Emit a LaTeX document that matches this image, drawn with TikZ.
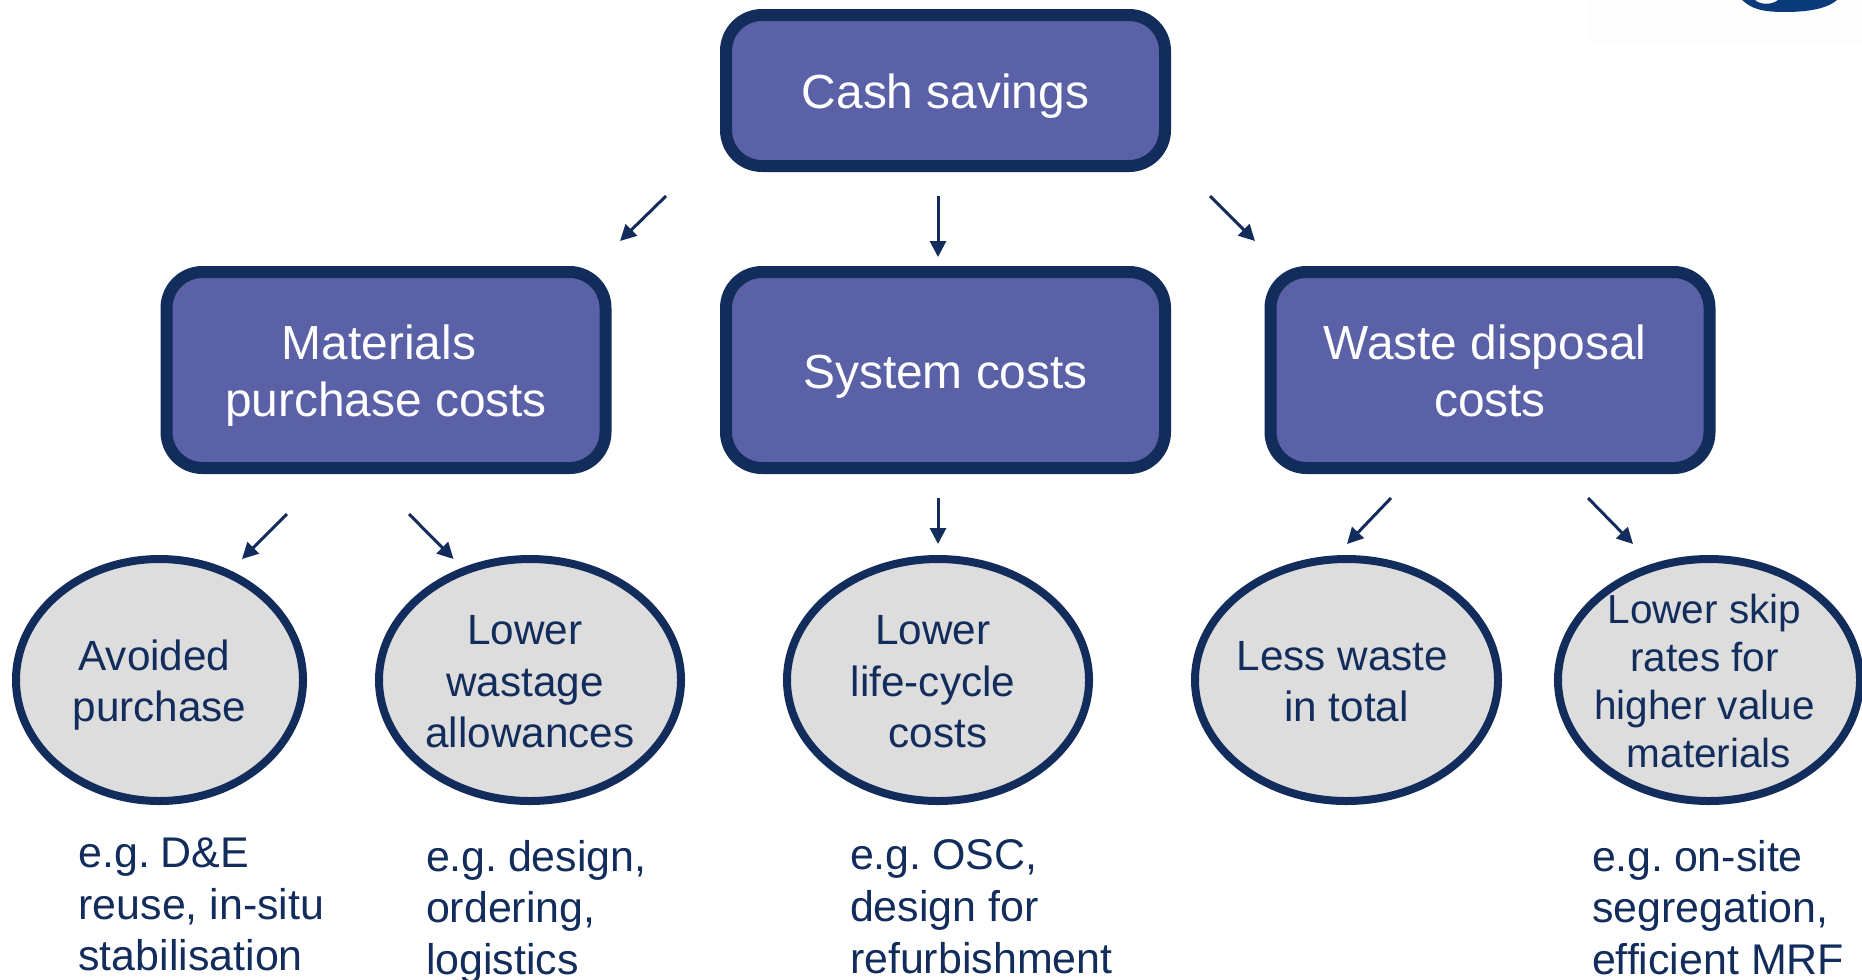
\documentclass[tikz,border=0pt]{standalone}
\usepackage{fontspec}
\setmainfont{Liberation Sans}
\usetikzlibrary{shapes.geometric,arrows.meta}
\definecolor{navy}{HTML}{122C5C}
\definecolor{boxfill}{HTML}{5A61A6}
\definecolor{ellfill}{HTML}{DDDDDD}
\definecolor{logoblue}{HTML}{0B3B7A}
\definecolor{logopale}{HTML}{FDFDFD}
\newlength{\px}\setlength{\px}{0.75pt}
% one line of a node: sideways shift (twice the offset), drop below the line's place, text
\newcommand{\tline}[3]{\hspace*{#1\px}\raisebox{-#2\px}[0pt][0pt]{#3}}
\newcommand{\eg}{e.g.\kern-1.5\px\ }
\tikzset{
  x=0.75pt,y=-0.75pt,
  rbox/.style={draw=navy,fill=boxfill,line width=12\px,rounded corners=36\px,minimum width=439\px,inner sep=0pt,outer sep=0pt,text=white,align=center,font=\fontsize{35.9pt}{42.6pt}\selectfont},
  oval/.style={ellipse,draw=navy,fill=ellfill,line width=8\px,inner sep=-60pt,outer sep=0pt,minimum height=242\px,text=navy,align=center,font=\fontsize{31.7pt}{38.4pt}\selectfont},
  note/.style={anchor=north west,inner sep=0pt,outer sep=0pt,text=navy,align=left,font=\fontsize{32.2pt}{38.7pt}\selectfont},
  arrow/.style={draw=navy,line width=3\px,-{Triangle[length=12pt,width=12pt]}},
}
\begin{document}
\begin{tikzpicture}
\useasboundingbox (0,0) rectangle (1862,979);
% logo fragment
\fill[logopale] (1590,0) rectangle (1862,45);
\fill[logoblue] (1742,0) .. controls (1752,9) and (1762,12) .. (1785,12) .. controls (1810,12) and (1828,8) .. (1837,0) -- (1778,0) .. controls (1772,5) and (1760,5) .. (1755,0) -- cycle;
% boxes
\node[rbox,minimum height=151\px] (cash) at (945.5,90.5) {\tline{0}{18}{Cash savings}};
\node[rbox,minimum height=196\px] (mat) at (386,370) {\tline{-14}{18}{Materials}\\\tline{0}{18}{purchase costs}};
\node[rbox,minimum height=196\px] (sys) at (945.5,370) {\tline{0}{18}{System costs}};
\node[rbox,minimum height=196\px] (waste) at (1490,370) {\tline{-10}{18}{Waste disposal}\\\tline{0}{18}{costs}};
% ellipses
\node[oval,minimum width=287\px] (avoid) at (159.5,680) {\tline{-10}{16}{Avoided}\\\tline{0}{16}{purchase}};
\node[oval,minimum width=302\px] (lower) at (530,680) {\tline{-10}{16}{Lower}\\\tline{-10}{16}{wastage}\\\tline{0}{16}{allowances}};
\node[oval,minimum width=302\px] (life) at (938,680) {\tline{-10}{16}{Lower}\\\tline{-10}{16}{life-cycle}\\\tline{0}{16}{costs}};
\node[oval,minimum width=303\px] (less) at (1346.5,680) {\tline{-8}{16}{Less waste}\\\tline{0}{16}{in total}};
\node[oval,minimum width=302\px,font=\fontsize{30.4pt}{36pt}\selectfont] (skip) at (1709,680) {\tline{-9}{15}{Lower skip}\\\tline{-9}{15}{rates for}\\\tline{-9}{15}{higher value}\\\tline{0}{15}{materials}};
% notes
\node[note] (n1) at (78.5,838) {\eg D\&E\\reuse, in-situ\\stabilisation};
\node[note] (n2) at (426,840) {\eg design,\\ordering,\\logistics};
\node[note] (n3) at (850,840) {\eg OSC,\\design for\\refurbishment};
\node[note] (n4) at (1592,840) {\eg on-site\\segregation,\\efficient MRF};
% arrow ends
\coordinate (a1s) at (666,196); \coordinate (a1e) at (620,241);
\coordinate (a2s) at (938,196); \coordinate (a2e) at (938,257);
\coordinate (a3s) at (1210,196); \coordinate (a3e) at (1255,241);
\coordinate (a4s) at (287,514); \coordinate (a4e) at (242,559);
\coordinate (a5s) at (409,514); \coordinate (a5e) at (453.5,559);
\coordinate (a6s) at (938,498); \coordinate (a6e) at (938,544);
\coordinate (a7s) at (1391,498); \coordinate (a7e) at (1347,544);
\coordinate (a8s) at (1588,498); \coordinate (a8e) at (1633,544);
\foreach \i in {1,...,8} \draw[arrow] (a\i s) -- (a\i e);
\end{tikzpicture}
\end{document}
